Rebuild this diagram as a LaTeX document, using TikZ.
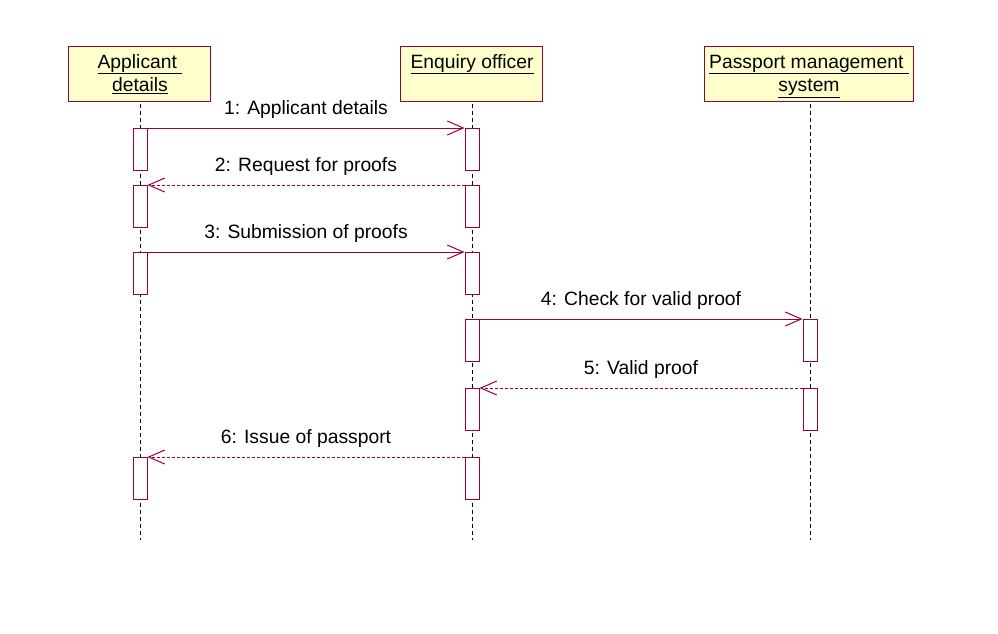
\documentclass[tikz,border=0pt]{standalone}
\usepackage{fontspec}
\setmainfont{Liberation Sans}
\usetikzlibrary{arrows.meta}
\definecolor{umlred}{HTML}{990033}
\definecolor{umlfill}{HTML}{FFFFCC}
\tikzset{
  head/.style={draw=umlred, fill=umlfill, line width=1pt, minimum height=55pt, anchor=north west, inner sep=0pt},
  headtext/.style={font=\fontsize{19.3}{24}\selectfont, align=center, anchor=base, inner sep=0pt},
  act/.style={draw=umlred, fill=white, line width=1pt, minimum width=14pt, minimum height=42pt, anchor=north, inner sep=0pt},
  life/.style={draw=black, line width=0.8pt, dash pattern=on 4pt off 3pt},
  call/.style={draw=umlred, line width=1pt, -{Straight Barb[length=16pt, width=14pt, line width=1pt]}},
  reply/.style={call, dash pattern=on 3pt off 2pt},
  lbl/.style={font=\fontsize{19.3}{24}\selectfont, anchor=base, inner sep=0pt, yshift=14pt}
}
\begin{document}
\begin{tikzpicture}[x=1pt, y=-1pt]
\useasboundingbox (0,0) rectangle (998,634);
% header boxes
\node[head, minimum width=142pt] (A) at (68,46) {};
\node[head, minimum width=142pt] (E) at (400,46) {};
\node[head, minimum width=209pt] (P) at (704,46) {};
\node[headtext] (At) at (140,68) {\underline{Applicant }};
\node[headtext] (At2) at (140,92) {\underline{details}};
\node[headtext] (Et) at (472,68) {\underline{Enquiry officer}};
\node[headtext] (Pt) at (809,68) {\underline{Passport management }};
\node[headtext] (Pt2) at (809,92) {\underline{system}};
% lifelines
\coordinate (La1) at (140,104); \coordinate (La2) at (140,540);
\coordinate (Le1) at (472,104); \coordinate (Le2) at (472,540);
\coordinate (Lp1) at (810,104); \coordinate (Lp2) at (810,540);
\draw[life] (La1) -- (La2);
\draw[life] (Le1) -- (Le2);
\draw[life] (Lp1) -- (Lp2);
% activations
\node[act] (a1) at (140,128) {};
\node[act] (a2) at (140,185) {};
\node[act] (a3) at (140,252) {};
\node[act] (a6) at (140,457) {};
\node[act] (e1) at (472,128) {};
\node[act] (e2) at (472,185) {};
\node[act] (e3) at (472,252) {};
\node[act] (e4) at (472,319) {};
\node[act] (e5) at (472,388) {};
\node[act] (e6) at (472,457) {};
\node[act] (p4) at (810,319) {};
\node[act] (p5) at (810,388) {};
% messages
\draw[call] (a1.north east) -- node[lbl] {1: Applicant details} (e1.north west);
\draw[reply] (e2.north west) -- node[lbl] {2: Request for proofs} (a2.north east);
\draw[call] (a3.north east) -- node[lbl] {3: Submission of proofs} (e3.north west);
\draw[call] (e4.north east) -- node[lbl] {4: Check for valid proof} (p4.north west);
\draw[reply] (p5.north west) -- node[lbl] {5: Valid proof} (e5.north east);
\draw[reply] (e6.north west) -- node[lbl] {6: Issue of passport} (a6.north east);
\end{tikzpicture}
\end{document}
